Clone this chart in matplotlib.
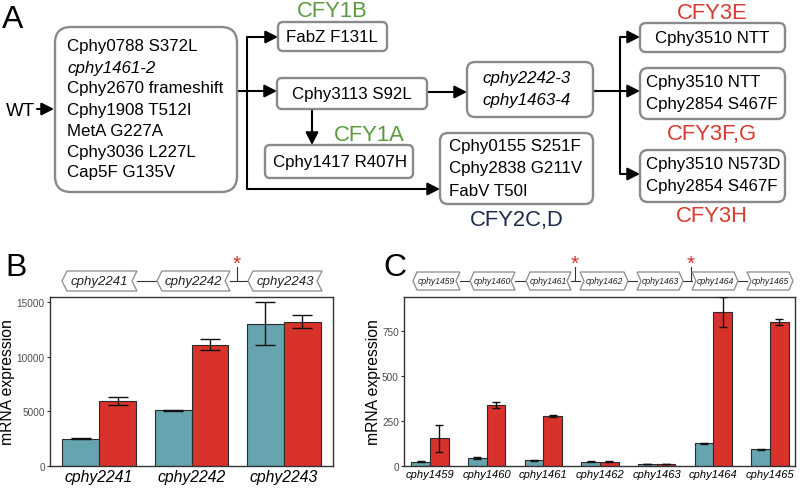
import matplotlib
matplotlib.use("Agg")
import matplotlib.pyplot as plt
from matplotlib.patches import FancyBboxPatch, Polygon
import numpy as np

plt.rcParams['font.family'] = ['Liberation Sans', 'DejaVu Sans']

# ---------------- data ----------------
genes_b = ['cphy2241', 'cphy2242', 'cphy2243']
wt_b = [2500, 5100, 13000]
wt_b_err = [60, 40, 1950]
evo_b = [5950, 11100, 13200]
evo_b_err = [370, 480, 600]
yticks_b = [0, 5000, 10000, 15000]

genes_c = ['cphy1459', 'cphy1460', 'cphy1461', 'cphy1462', 'cphy1463', 'cphy1464', 'cphy1465']
wt_c = [23, 46, 31, 23, 12, 125, 92]
wt_c_err = [2, 5, 2, 2, 1, 3, 5]
evo_c = [153, 337, 276, 24, 11, 853, 801]
evo_c_err = [73, 17, 5, 2, 1, 83, 16]
yticks_c = [0, 250, 500, 750]
dir_c = ['L', 'L', 'L', 'R', 'R', 'R', 'R']

main_mutations = ['Cphy0788 S372L', 'cphy1461-2', 'Cphy2670 frameshift', 'Cphy1908 T512I',
                  'MetA G227A', 'Cphy3036 L227L', 'Cap5F G135V']
italic_main = [False, True, False, False, False, False, False]

TEAL = '#66a5b0'
RED = '#d8322a'
GREEN = '#5b9a40'
LRED = '#d83a30'
NAVY = '#1c2b4a'
BOXEDGE = '#8a8a8a'

W, H = 800, 489
fig = plt.figure(figsize=(W / 100, H / 100), dpi=100)


def axpos(l, t, r, b):
    return [l / W, (H - b) / H, (r - l) / W, (b - t) / H]


def bars(ax, genes, wt, wte, evo, evoe, width, cap, yticks, ylim, xlim, xfs):
    x = np.arange(1, len(genes) + 1)
    ax.bar(x - width / 2, wt, width, color=TEAL, edgecolor='#2b2b2b', linewidth=0.8, zorder=2)
    ax.bar(x + width / 2, evo, width, color=RED, edgecolor='#2b2b2b', linewidth=0.8, zorder=2)
    ax.errorbar(x - width / 2, wt, yerr=wte, fmt='none', ecolor='#111111', elinewidth=1.0,
                capsize=cap, capthick=1.0, zorder=3)
    ax.errorbar(x + width / 2, evo, yerr=evoe, fmt='none', ecolor='#111111', elinewidth=1.0,
                capsize=cap, capthick=1.0, zorder=3)
    ax.set_xlim(*xlim)
    ax.set_ylim(*ylim)
    ax.set_xticks(x)
    ax.set_xticklabels(genes, style='italic', fontsize=xfs, color='black')
    ax.set_yticks(yticks)
    ax.set_yticklabels([str(v) for v in yticks], fontsize=7.2, color='#4d4d4d')
    ax.tick_params(axis='y', length=2.2, width=0.8, color='#333333', pad=1.5)
    ax.tick_params(axis='x', length=0, pad=2)
    for s in ax.spines.values():
        s.set_color('#333333')
        s.set_linewidth(1.0)
    ax.set_ylabel('mRNA expression', fontsize=11.3)


axB = fig.add_axes(axpos(50, 298, 333, 467))
bars(axB, genes_b, wt_b, wt_b_err, evo_b, evo_b_err, 0.4, 7, yticks_b, (0, 15450), (0.47, 3.53), 11.3)
axB.yaxis.set_label_coords(-0.125, 0.5)

axC = fig.add_axes(axpos(404, 298, 795, 467))
bars(axC, genes_c, wt_c, wt_c_err, evo_c, evo_c_err, 0.33, 2.9, yticks_c, (0, 938), (0.54, 7.44), 8)
axC.yaxis.set_label_coords(-0.058, 0.5)

# ---------------- overlay (diagram) ----------------
ov = fig.add_axes([0, 0, 1, 1], zorder=5)
ov.set_xlim(0, W)
ov.set_ylim(H, 0)
ov.axis('off')
ov.patch.set_alpha(0)


def box(x0, y0, x1, y1, r):
    p = FancyBboxPatch((x0, y0), x1 - x0, y1 - y0, boxstyle=f"round,pad=0,rounding_size={r}",
                       facecolor='white', edgecolor=BOXEDGE, linewidth=1.7, zorder=3)
    ov.add_patch(p)


def line(xs, ys):
    ov.plot(xs, ys, color='black', lw=1.5, solid_capstyle='butt', zorder=2)


def arrow(x0, y0, x1, y1):
    ov.annotate('', xy=(x1, y1), xytext=(x0, y0),
                arrowprops=dict(arrowstyle='-|>,head_length=0.75,head_width=0.38', mutation_scale=10,
                                lw=1.5, color='black', shrinkA=0, shrinkB=0), zorder=2)


def txt(x, y, s, **kw):
    kw.setdefault('fontsize', 12.2)
    ov.text(x, y, s, zorder=4, **kw)


# panel labels
txt(13, 20, 'A', fontsize=23, ha='center', va='center')
txt(16, 268, 'B', fontsize=23, ha='center', va='center')
txt(395, 268, 'C', fontsize=23, ha='center', va='center')

# WT arrow
txt(20, 111, 'WT', fontsize=13.5, ha='center', va='center')
arrow(37, 110, 54, 110)

# main box
box(55, 28, 237, 193, 16)
for i, (m, it) in enumerate(zip(main_mutations, italic_main)):
    txt(67, 47 + 21 * i, m, ha='left', va='center', style='italic' if it else 'normal')

# connectors from main box
line([237, 247], [92, 92])
line([247, 247], [38, 190])
arrow(247, 38, 278, 38)
arrow(247, 92, 277, 92)
arrow(247, 190, 440, 190)

# FabZ box
box(278, 23, 387, 52, 5)
txt(332, 37.5, 'FabZ F131L', ha='center', va='center')
txt(332, 17, 'CFY1B', fontsize=15.8, color=GREEN, ha='center', va='baseline')

# Cphy3113 box
box(277, 79, 427, 110, 5)
txt(352, 94.5, 'Cphy3113 S92L', ha='center', va='center')
arrow(312, 110, 312, 146)
txt(369, 141, 'CFY1A', fontsize=15.8, color=GREEN, ha='center', va='baseline')

# Cphy1417 box
box(265, 146, 413, 179, 5)
txt(340, 162.5, 'Cphy1417 R407H', ha='center', va='center')

# cphy2242-3 box
arrow(427, 93, 467, 93)
box(467, 63, 593, 118, 8)
txt(527, 79, 'cphy2242-3', ha='center', va='center', style='italic')
txt(527, 100, 'cphy1463-4', ha='center', va='center', style='italic')

# CFY2 box
box(440, 134, 593, 205, 8)
for i, s in enumerate(['Cphy0155 S251F', 'Cphy2838 G211V', 'FabV T50I']):
    txt(449, 147 + 22 * i, s, ha='left', va='center')
txt(517, 226, 'CFY2C,D', fontsize=15.8, color=NAVY, ha='center', va='baseline')

# CFY3 branch
line([593, 620], [92, 92])
line([620, 620], [38, 175])
arrow(620, 38, 640, 38)
arrow(620, 92, 640, 92)
arrow(620, 175, 640, 175)

box(640, 24, 785, 53, 6)
txt(712, 38, 'Cphy3510 NTT', ha='center', va='center')
txt(712, 19, 'CFY3E', fontsize=15.8, color=LRED, ha='center', va='baseline')

box(640, 69, 785, 120, 8)
txt(646, 82, 'Cphy3510 NTT', ha='left', va='center')
txt(646, 104, 'Cphy2854 S467F', ha='left', va='center')
txt(712, 140, 'CFY3F,G', fontsize=15.8, color=LRED, ha='center', va='baseline')

box(640, 151, 785, 203, 8)
txt(646, 164, 'Cphy3510 N573D', ha='left', va='center')
txt(646, 186, 'Cphy2854 S467F', ha='left', va='center')
txt(712, 222, 'CFY3H', fontsize=15.8, color=LRED, ha='center', va='baseline')


# ---------------- gene arrows ----------------
def gene(x0, x1, top, bot, d, direction, label, fs):
    yc = (top + bot) / 2
    if direction == 'L':
        pts = [(x0, yc), (x0 + d, top), (x1, top), (x1 - d, yc), (x1, bot), (x0 + d, bot)]
    else:
        pts = [(x0, top), (x1 - d, top), (x1, yc), (x1 - d, bot), (x0, bot), (x0 + d, yc)]
    ov.add_patch(Polygon(pts, closed=True, facecolor='white', edgecolor=BOXEDGE, lw=0.9, zorder=3))
    ov.text((x0 + x1) / 2, yc, label, fontsize=fs, style='italic', color='#222222',
            ha='center', va='center', zorder=4)


def stem_star(x, yline):
    ov.plot([x, x], [yline, 268], color='#333333', lw=0.8, zorder=2)
    ov.text(x, 264, '*', fontsize=15, color=RED, ha='center', va='center', zorder=4)


# B genes
gb_pos = [(62, 137), (157, 230), (248, 322)]
for (a, b), g in zip(gb_pos, genes_b):
    gene(a, b, 272, 292, 5, 'L', g, 9.5)
for i in range(len(gb_pos) - 1):
    ov.plot([gb_pos[i][1], gb_pos[i + 1][0]], [282, 282], color='#333333', lw=0.8, zorder=2)
stem_star(237, 282)

# C genes
gc_pos = [(413, 460), (470, 515), (526, 571), (580, 628), (637, 683), (692, 738), (747, 793)]
for (a, b), g, dr in zip(gc_pos, genes_c, dir_c):
    gene(a, b, 273, 291, 4, dr, g, 6.2)
for i in range(len(gc_pos) - 1):
    ov.plot([gc_pos[i][1], gc_pos[i + 1][0]], [282, 282], color='#333333', lw=0.8, zorder=2)
stem_star(575, 282)
stem_star(691, 282)

fig.savefig('out.png', dpi=100)
